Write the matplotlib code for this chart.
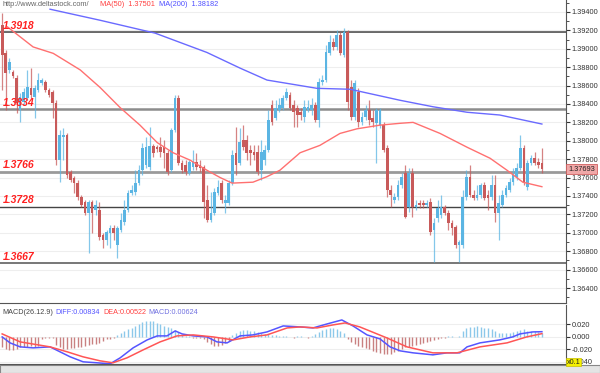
import numpy as np
import matplotlib

matplotlib.use("Agg")
import matplotlib.pyplot as plt
from matplotlib.ticker import MultipleLocator, FormatStrFormatter

plt.rcParams["font.family"] = ["Liberation Sans", "DejaVu Sans"]

# ---- candles (open, high, low, close) ----
opens = [
    1.3926, 1.3895, 1.3877, 1.3875, 1.3868, 1.3833, 1.3842, 1.3846, 1.3857, 1.3848,
    1.3855, 1.3863, 1.3864, 1.3855, 1.3853, 1.3841, 1.3779, 1.3804, 1.3806, 1.3766,
    1.3760, 1.3754, 1.3739, 1.3733, 1.3721, 1.3733, 1.3725, 1.3725, 1.3698, 1.3692,
    1.3700, 1.3705, 1.3687, 1.3703, 1.3712, 1.3725, 1.3743, 1.3744, 1.3754,
    1.3768, 1.3774, 1.3771, 1.3794, 1.3793, 1.3793, 1.3793, 1.3787, 1.3768, 1.3812,
    1.3846, 1.3776, 1.3774, 1.3765, 1.3771, 1.3777, 1.3774, 1.3771, 1.3736, 1.3714,
    1.3721, 1.3743, 1.3754, 1.3732, 1.3732, 1.3754, 1.3787, 1.3776, 1.3801, 1.3801,
    1.3790, 1.3788, 1.3788, 1.3768, 1.3779, 1.3790, 1.3839, 1.3825, 1.3833,
    1.3836, 1.3846, 1.3850, 1.3839, 1.3836, 1.3831, 1.3826, 1.3833, 1.3833, 1.3839,
    1.3823, 1.3864, 1.3866, 1.3895, 1.3907, 1.3902, 1.3915, 1.3893, 1.3918, 1.3858,
    1.3826, 1.3853, 1.3820, 1.3826, 1.3833, 1.3825, 1.3819, 1.3817, 1.3817, 1.3792,
    1.3746, 1.3736, 1.3739, 1.3752, 1.3765, 1.3728, 1.3765, 1.3728, 1.3732, 1.3732,
    1.3730, 1.3733, 1.3703, 1.3716, 1.3719, 1.3728, 1.3721, 1.3711, 1.3706, 1.3687,
    1.3687, 1.3739, 1.3761, 1.3741, 1.3738, 1.3741, 1.3752, 1.3741, 1.3739, 1.3752,
    1.3721, 1.3730, 1.3741, 1.3746, 1.3755, 1.3761, 1.3770, 1.3792, 1.3750, 1.3776,
    1.3781, 1.3777, 1.3776,
]
highs = [
    1.3939, 1.3899, 1.3890, 1.3877, 1.3871, 1.3852, 1.3857, 1.3877, 1.3879, 1.3861,
    1.3874, 1.3868, 1.3866, 1.3857, 1.3855, 1.3844, 1.3812, 1.3814, 1.3808, 1.3768,
    1.3762, 1.3757, 1.3741, 1.3736, 1.3736, 1.3736, 1.3736, 1.3733, 1.3700, 1.3703,
    1.3708, 1.3708, 1.3707, 1.3721, 1.3736, 1.3746, 1.3752, 1.3768, 1.3774,
    1.3798, 1.3804, 1.3815, 1.3797, 1.3795, 1.3804, 1.3801, 1.3790, 1.3814, 1.3850,
    1.3850, 1.3779, 1.3779, 1.3779, 1.3790, 1.3787, 1.3779, 1.3774, 1.3752, 1.3744,
    1.3749, 1.3757, 1.3757, 1.3741, 1.3757, 1.3790, 1.3815, 1.3814, 1.3817, 1.3806,
    1.3795, 1.3795, 1.3795, 1.3801, 1.3795, 1.3833, 1.3844, 1.3844, 1.3846,
    1.3850, 1.3857, 1.3853, 1.3844, 1.3839, 1.3836, 1.3844, 1.3844, 1.3846, 1.3842,
    1.3868, 1.3871, 1.3904, 1.3915, 1.3912, 1.3920, 1.3918, 1.3923, 1.3920, 1.3866,
    1.3866, 1.3857, 1.3831, 1.3839, 1.3844, 1.3833, 1.3836, 1.3836, 1.3820, 1.3795,
    1.3752, 1.3743, 1.3757, 1.3765, 1.3774, 1.3770, 1.3770, 1.3736, 1.3736, 1.3736,
    1.3736, 1.3738, 1.3716, 1.3736, 1.3741, 1.3730, 1.3725, 1.3714, 1.3708, 1.3692,
    1.3746, 1.3768, 1.3774, 1.3746, 1.3752, 1.3754, 1.3755, 1.3746, 1.3763, 1.3763,
    1.3741, 1.3746, 1.3752, 1.3760, 1.3770, 1.3776, 1.3806, 1.3795, 1.3779, 1.3785,
    1.3788, 1.3781, 1.3792,
]
lows = [
    1.3855, 1.3833, 1.3874, 1.3868, 1.3830, 1.3820, 1.3839, 1.3844, 1.3846, 1.3825,
    1.3853, 1.3861, 1.3853, 1.3848, 1.3825, 1.3774, 1.3755, 1.3779, 1.3760, 1.3755,
    1.3743, 1.3736, 1.3728, 1.3719, 1.3678, 1.3700, 1.3719, 1.3692, 1.3684, 1.3687,
    1.3684, 1.3692, 1.3673, 1.3701, 1.3708, 1.3723, 1.3741, 1.3741, 1.3752,
    1.3763, 1.3770, 1.3768, 1.3782, 1.3788, 1.3782, 1.3770, 1.3763, 1.3766, 1.3810,
    1.3774, 1.3765, 1.3763, 1.3763, 1.3768, 1.3768, 1.3766, 1.3716, 1.3712, 1.3712,
    1.3719, 1.3741, 1.3732, 1.3721, 1.3730, 1.3752, 1.3763, 1.3774, 1.3790, 1.3779,
    1.3774, 1.3779, 1.3763, 1.3757, 1.3774, 1.3788, 1.3817, 1.3823, 1.3831,
    1.3833, 1.3844, 1.3833, 1.3815, 1.3815, 1.3823, 1.3820, 1.3831, 1.3828, 1.3820,
    1.3815, 1.3861, 1.3864, 1.3893, 1.3899, 1.3899, 1.3893, 1.3891, 1.3833, 1.3823,
    1.3823, 1.3815, 1.3817, 1.3823, 1.3817, 1.3815, 1.3776, 1.3814, 1.3788, 1.3739,
    1.3728, 1.3732, 1.3736, 1.3749, 1.3716, 1.3723, 1.3717, 1.3725, 1.3727, 1.3727,
    1.3728, 1.3698, 1.3668, 1.3712, 1.3716, 1.3719, 1.3703, 1.3698, 1.3683, 1.3668,
    1.3683, 1.3736, 1.3739, 1.3736, 1.3736, 1.3738, 1.3736, 1.3725, 1.3736, 1.3712,
    1.3692, 1.3728, 1.3739, 1.3744, 1.3752, 1.3757, 1.3768, 1.3752, 1.3746, 1.3774,
    1.3774, 1.3770, 1.3765,
]
closes = [
    1.3893, 1.3874, 1.3886, 1.3870, 1.3841, 1.3848, 1.3853, 1.3858, 1.3850, 1.3857,
    1.3866, 1.3866, 1.3855, 1.3850, 1.3841, 1.3779, 1.3806, 1.3806, 1.3763, 1.3757,
    1.3754, 1.3739, 1.3730, 1.3721, 1.3733, 1.3721, 1.3730, 1.3695, 1.3692, 1.3701,
    1.3705, 1.3700, 1.3705, 1.3714, 1.3725, 1.3743, 1.3746, 1.3754, 1.3768,
    1.3792, 1.3793, 1.3794, 1.3787, 1.3791, 1.3788, 1.3787, 1.3766, 1.3812, 1.3846,
    1.3776, 1.3768, 1.3766, 1.3777, 1.3777, 1.3771, 1.3770, 1.3733, 1.3714, 1.3721,
    1.3744, 1.3750, 1.3736, 1.3736, 1.3754, 1.3785, 1.3774, 1.3799, 1.3793, 1.3787,
    1.3787, 1.3785, 1.3766, 1.3788, 1.3790, 1.3823, 1.3820, 1.3836, 1.3839,
    1.3846, 1.3853, 1.3836, 1.3831, 1.3828, 1.3828, 1.3837, 1.3837, 1.3839, 1.3823,
    1.3864, 1.3866, 1.3896, 1.3907, 1.3902, 1.3915, 1.3895, 1.3918, 1.3842, 1.3826,
    1.3863, 1.3820, 1.3826, 1.3833, 1.3823, 1.3820, 1.3833, 1.3833, 1.3790, 1.3746,
    1.3741, 1.3739, 1.3752, 1.3761, 1.3717, 1.3765, 1.3728, 1.3730, 1.3730, 1.3730,
    1.3732, 1.3701, 1.3711, 1.3727, 1.3728, 1.3721, 1.3711, 1.3705, 1.3687, 1.3690,
    1.3739, 1.3761, 1.3741, 1.3738, 1.3741, 1.3752, 1.3738, 1.3738, 1.3752, 1.3721,
    1.3732, 1.3741, 1.3749, 1.3755, 1.3763, 1.3770, 1.3792, 1.3755, 1.3776, 1.3781,
    1.3776, 1.3774, 1.37693,
]

# moving averages, sampled along the drawn curves (bar index, value)
ma50_idx = [1.4, 8.6, 14.2, 21.7, 27.2, 32.8, 38.3, 43.1, 47.5, 52.2, 56.9, 60.6, 63.9,
            69.7, 73.6, 77.2, 82.8, 88.3, 93.9, 98.6, 105.0, 110.6, 114.2, 121.7,
            129.2, 135.6, 140.3, 144.7, 150.0]
ma50_val = [1.3924, 1.3902, 1.3895, 1.3877, 1.3858, 1.3836, 1.3817, 1.3798, 1.3787,
            1.3779, 1.3768, 1.3760, 1.3754, 1.3755, 1.3761, 1.3768, 1.3787, 1.3795,
            1.3808, 1.3813, 1.3817, 1.3819, 1.3820, 1.3808, 1.3793, 1.3781, 1.3768,
            1.3755, 1.37501]
ma200_idx = [13.3, 27.2, 42.5, 56.9, 66.1, 73.6, 87.5, 96.7, 110.6, 119.7, 129.2, 138.3, 150.0]
ma200_val = [1.3943, 1.3931, 1.3917, 1.3896, 1.3879, 1.3866, 1.3857, 1.3856, 1.3844,
             1.3837, 1.3831, 1.3828, 1.38182]

# support / resistance levels
levels = [1.3918, 1.3834, 1.3766, 1.3728, 1.3667]
level_colors = ["#666666", "#8c8c8c", "#9a9a9a", "#444444", "#777777"]
level_widths = [1.4, 1.8, 2.0, 1.0, 1.4]

# MACD panel
diff_idx = [0, 2.2, 5.0, 8.6, 13.3, 16.1, 18.9, 22.5, 26.4, 30.0, 32.8, 36.4, 40.3,
            43.1, 45.8, 48.1, 50.0, 53.1, 56.9, 59.7, 62.5, 66.1, 69.7, 73.6, 78.1,
            82.8, 86.4, 90.3, 94.4, 97.5, 101.4, 105.0, 107.8, 110.6, 114.2, 119.7,
            123.6, 127.2, 129.2, 132.8, 138.3, 141.9, 143.9, 147.5, 150.0]
diff_val = [0.0, -0.0096, -0.016, -0.0176, -0.016, -0.024, -0.032, -0.040, -0.0416,
            -0.0432, -0.0336, -0.0176, -0.0048, 0.0016, 0.0016, 0.0096, 0.0048, 0.0016,
            0.0, -0.008, -0.0096, 0.0016, 0.0032, 0.008, 0.0176, 0.016, 0.0144, 0.0208,
            0.0272, 0.0176, 0.0032, -0.0032, -0.016, -0.0224, -0.0256, -0.0288,
            -0.0256, -0.0256, -0.016, -0.0096, -0.0048, 0.0, 0.0048, 0.008, 0.00834]
dea_idx = [0, 5.0, 13.3, 18.1, 22.5, 27.2, 30.8, 34.7, 39.2, 43.9, 48.6, 53.1, 58.6,
           64.2, 68.9, 73.6, 79.2, 82.8, 87.5, 91.9, 95.3, 99.4, 106.9, 112.5, 119.7,
           126.4, 132.8, 140.3, 145.8, 150.0]
dea_val = [0.0048, -0.008, -0.016, -0.024, -0.032, -0.0384, -0.0416, -0.0336, -0.0208,
           -0.008, 0.0016, 0.0032, 0.0, -0.0048, 0.0, 0.0032, 0.0144, 0.016, 0.0144,
           0.0192, 0.0224, 0.016, -0.0016, -0.016, -0.0256, -0.0256, -0.016, -0.0096,
           0.0, 0.00522]
macd_hist = [
    -0.016, -0.019, -0.021, -0.021, -0.020,
    -0.017, -0.016, -0.016, -0.015, -0.016, -0.015,
    -0.004, -0.002, -0.002, -0.001,
    -0.013, -0.017, -0.019, -0.019, -0.018, -0.018, -0.017, -0.016,
    -0.014, -0.013, -0.012, -0.011, -0.010,
    -0.006, -0.004, -0.003, -0.001,
    0.003, 0.006, 0.009, 0.012, 0.015, 0.018, 0.021, 0.024, 0.026, 0.026, 0.025,
    0.023, 0.021, 0.018, 0.016, 0.014, 0.011, 0.008, 0.005,
    0.002, 0.001, -0.001, -0.001, -0.002, -0.003,
    -0.008, -0.012, -0.014, -0.014, -0.013, -0.010, -0.006,
    0.003, 0.006, 0.009, 0.011, 0.011, 0.010, 0.009, 0.008, 0.006, 0.005,
    0.004, 0.003, 0.003, 0.002, 0.001, 0.001, 0.000, -0.001, 0.001,
    0.001, 0.000, -0.001, 0.002, 0.005, 0.008, 0.011, 0.013, 0.014, 0.014, 0.013,
    0.010, 0.006,
    -0.004, -0.008, -0.011, -0.014, -0.016, -0.018, -0.020, -0.022, -0.024, -0.026,
    -0.028, -0.028, -0.027, -0.025, -0.022, -0.019, -0.017, -0.016, -0.014, -0.013,
    -0.011, -0.009, -0.008, -0.006, -0.005, -0.003, -0.002,
    -0.001, 0.001, 0.001, 0.000, 0.002, 0.010,
    0.014, 0.016, 0.016, 0.017, 0.016, 0.015, 0.014, 0.012, 0.009,
    0.007, 0.006, 0.006, 0.007, 0.008, 0.009, 0.011, 0.012, 0.010, 0.009, 0.009,
    0.008, 0.007,
]

UP = "#5bb5e3"
DOWN = "#c85a5a"
GRID = "#eeeeee"
TXT = "#333333"
TICK_FS = 5.3

o = np.array(opens)
h = np.array(highs)
l = np.array(lows)
c = np.array(closes)
x = np.arange(len(c))
up = c >= o

fig = plt.figure(figsize=(6, 3.73), dpi=100)
W = 566 / 600
ax = fig.add_axes([0, 70 / 373, W, 303 / 373])
axm = fig.add_axes([0, 9 / 373, W, 59 / 373])
axb = fig.add_axes([0, 0, 1, 8 / 373])
axb.set_zorder(0)
axm.set_zorder(2)

# ---- price panel ----
ax.set_xlim(-0.6, 156.7)
ax.set_ylim(1.36237, 1.3953)
ax.yaxis.set_major_locator(MultipleLocator(0.002))
ax.yaxis.set_minor_locator(MultipleLocator(0.001))
ax.yaxis.set_major_formatter(FormatStrFormatter("%.5f"))
ax.yaxis.tick_right()
ax.tick_params(axis="y", which="major", labelsize=TICK_FS, colors=TXT, length=3, pad=1)
ax.tick_params(axis="y", which="minor", length=2, colors=TXT)
ax.set_xticks([])
ax.grid(axis="y", color=GRID, linewidth=0.8, zorder=0)
for s in ["left", "top"]:
    ax.spines[s].set_visible(False)
ax.spines["right"].set_color("#555555")
ax.spines["bottom"].set_color("#555555")

for lv, col, lw in zip(levels, level_colors, level_widths):
    ax.axhline(lv, color=col, linewidth=lw, zorder=1)

colors = np.where(up, UP, DOWN)
ax.vlines(x, l, h, colors=colors, linewidth=0.9, alpha=0.75, zorder=2)
body_lo = np.minimum(o, c)
body_h = np.maximum(np.abs(c - o), 0.00006)
ax.bar(x, body_h, bottom=body_lo, width=0.75, color=colors, linewidth=0, zorder=3)

ax.plot(ma50_idx, ma50_val, color="#ff7070", linewidth=1.0, zorder=4)
ax.plot(ma200_idx, ma200_val, color="#6a6aff", linewidth=1.0, zorder=4)

for lv in levels:
    ax.text(0.2, lv + 0.00018, f"{lv:.4f}", color="#ff2020", fontsize=7.5,
            fontweight="bold", fontstyle="italic",
            va="bottom", ha="left", zorder=6)

ax.text(0.005, 0.997, "http://www.deltastock.com/", transform=ax.transAxes,
        fontsize=5.3, color="#666666", va="top", ha="left")
ax.text(0.177, 0.997, "MA(50)  1.37501", transform=ax.transAxes,
        fontsize=5.3, color="#ff4040", va="top", ha="left")
ax.text(0.281, 0.997, "MA(200)  1.38182", transform=ax.transAxes,
        fontsize=5.3, color="#5050ff", va="top", ha="left")

ax.text(1.004, closes[-1], f"{closes[-1]:.5f}", transform=ax.get_yaxis_transform(),
        fontsize=TICK_FS, color="#222222", va="center", ha="left", clip_on=False, zorder=10,
        bbox=dict(boxstyle="square,pad=0.25", facecolor="#f0a8a8", edgecolor="#d06060",
                  linewidth=0.6))

# ---- MACD panel ----
axm.set_xlim(-0.6, 156.7)
axm.set_ylim(-0.0435, 0.0512)
axm.yaxis.tick_right()
axm.set_yticks([0.02, 0.0, -0.02, -0.04])
axm.yaxis.set_major_formatter(FormatStrFormatter("%.3f"))
axm.tick_params(axis="y", labelsize=TICK_FS, colors=TXT, length=3, pad=1)
axm.set_xticks([])
axm.grid(axis="y", color=GRID, linewidth=0.8, zorder=0)
for s in ["left", "top"]:
    axm.spines[s].set_visible(False)
axm.spines["right"].set_color("#555555")
axm.spines["bottom"].set_color("#555555")

hist = np.array(macd_hist)
hx = np.arange(len(hist))
axm.vlines(hx, 0, hist, colors=np.where(hist >= 0, "#8cc8ea", "#c98080"),
           linewidth=1.0, zorder=2)
axm.plot(diff_idx, diff_val, color="#5555ff", linewidth=1.1, zorder=3)
axm.plot(dea_idx, dea_val, color="#ff5555", linewidth=1.1, zorder=3)

axm.text(0.005, 0.93, "MACD(26.12.9)", transform=axm.transAxes, fontsize=5.2,
         color="#444444", va="top", ha="left")
axm.text(0.097, 0.93, "DIFF:0.00834", transform=axm.transAxes, fontsize=5.2,
         color="#5555ff", va="top", ha="left")
axm.text(0.182, 0.93, "DEA:0.00522", transform=axm.transAxes, fontsize=5.2,
         color="#ff4040", va="top", ha="left")
axm.text(0.262, 0.93, "MACD:0.00624", transform=axm.transAxes, fontsize=5.2,
         color="#7070e0", va="top", ha="left")
axm.text(1.001, -0.0405, "x0.1", transform=axm.get_yaxis_transform(), fontsize=5.2,
         color="#222222", va="center", ha="left", clip_on=False, zorder=10,
         bbox=dict(boxstyle="square,pad=0.12", facecolor="#f5f000", edgecolor="#c8c000",
                   linewidth=0.5))

# ---- bottom strip ----
axb.set_facecolor("#e4e4e4")
axb.set_xticks([])
axb.set_yticks([])
for s in axb.spines.values():
    s.set_color("#888888")

fig.savefig("out.png", dpi=100)
